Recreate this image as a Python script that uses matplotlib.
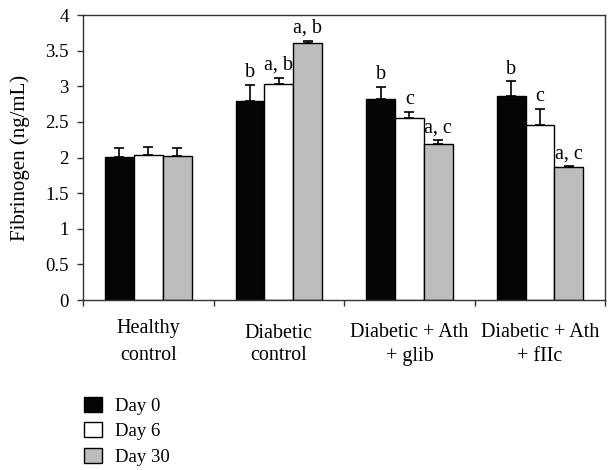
import numpy as np
import matplotlib.pyplot as plt
from matplotlib.patches import Patch

plt.rcParams["font.family"] = ["Liberation Serif", "DejaVu Serif"]

groups = ["Healthy\ncontrol", "Diabetic\ncontrol", "Diabetic + Ath\n+ glib", "Diabetic + Ath\n+ fIIc"]
days = ["Day 0", "Day 6", "Day 30"]
colors = ["#050505", "white", "#bdbdbd"]

means = [
    [2.01, 2.80, 2.82, 2.87],  # Day 0
    [2.04, 3.03, 2.55, 2.46],  # Day 6
    [2.02, 3.61, 2.19, 1.86],  # Day 30
]
errs = [
    [0.13, 0.22, 0.17, 0.20],
    [0.11, 0.09, 0.09, 0.22],
    [0.12, 0.03, 0.05, 0.02],
]
letters = [
    ["", "b", "b", "b"],
    ["", "a, b", "c", "c"],
    ["", "a, b", "a, c", "a, c"],
]

# baseline of each label line, in pixels below the x axis
label_drop = [(33, 60), (38, 60), (37, 61), (37, 61)]

fig = plt.figure(figsize=(6.1, 4.7), dpi=100)
ax = fig.add_axes([0.1361, 0.3617, 0.9923 - 0.1361, 0.968 - 0.3617])

x = np.arange(len(groups)) + 0.5
width = 0.221

for i in range(len(days)):
    pos = x + (i - 1) * width
    m = np.array(means[i])
    e = np.array(errs[i])
    ax.bar(pos, m, width, color=colors[i], edgecolor="black", linewidth=1.0,
           yerr=[np.zeros_like(e), e], capsize=3.3,
           error_kw=dict(elinewidth=1.2, capthick=1.2, ecolor="black"),
           label=days[i], zorder=2)
    for j in range(len(groups)):
        if letters[i][j]:
            ax.annotate(letters[i][j], (pos[j], m[j] + e[j]), xytext=(0, 2),
                        textcoords="offset points", ha="center", va="bottom",
                        fontsize=14.5)

# group labels, one line at a time
for j, g in enumerate(groups):
    for line, drop in zip(g.split("\n"), label_drop[j]):
        ax.annotate(line, (x[j], 0), xycoords=("data", "axes fraction"),
                    xytext=(0, -drop * 0.72), textcoords="offset points",
                    ha="center", va="baseline", fontsize=14.5,
                    annotation_clip=False)

ax.set_xlim(0, 4)
ax.set_ylim(0, 4)
ax.set_yticks(np.arange(0, 4.01, 0.5))
ax.set_yticklabels(["0", "0.5", "1", "1.5", "2", "2.5", "3", "3.5", "4"], fontsize=13.5)
ax.set_xticks(np.arange(0, 5))
ax.set_xticklabels([])
ax.tick_params(axis="both", which="major", direction="out", length=4.3, width=1, color="#333333")
ax.tick_params(axis="y", pad=6)
ax.set_ylabel("Fibrinogen (ng/mL)", fontsize=15)
ax.yaxis.set_label_coords(-0.101, 0.5)
for s in ax.spines.values():
    s.set_color("#333333")
    s.set_linewidth(1.0)

handles = [Patch(facecolor=c, edgecolor="black", linewidth=1.0) for c in colors]
fig.legend(handles, days, loc="upper left", bbox_to_anchor=(0.1247, 0.172),
           frameon=False, fontsize=13.5, handlelength=0.96, handleheight=0.85,
           handletextpad=0.72, labelspacing=0.4, borderaxespad=0)

fig.savefig("out.png", dpi=100)
